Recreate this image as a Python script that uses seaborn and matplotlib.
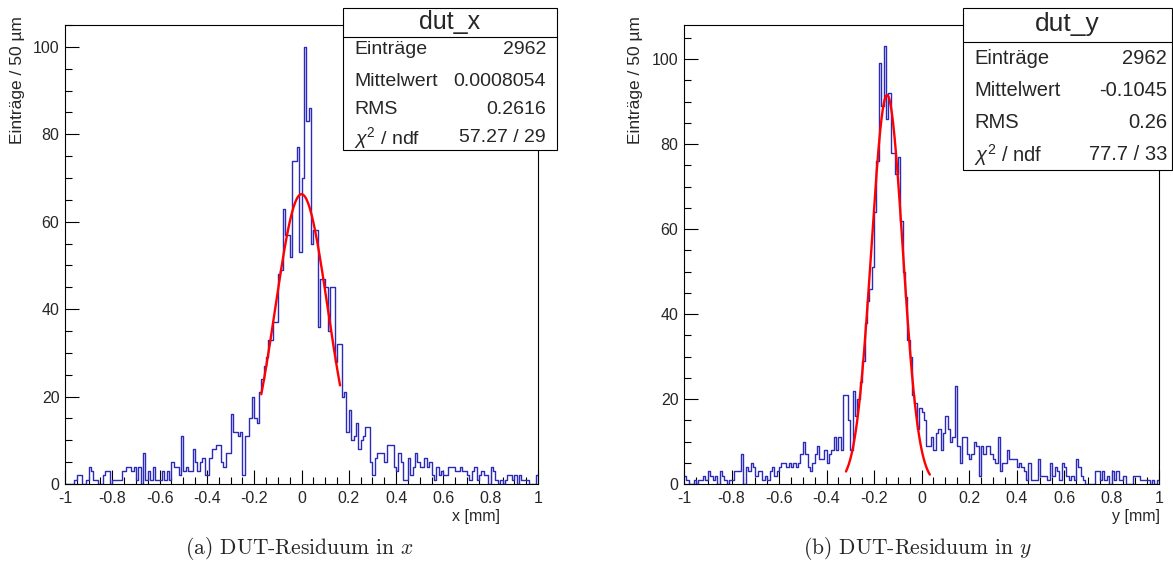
import numpy as np
import pandas as pd
import matplotlib
matplotlib.use("Agg")
import matplotlib.pyplot as plt
from matplotlib.patches import Rectangle
from matplotlib.ticker import MultipleLocator
import seaborn as sns

# 200 bins of 50 um between -1 mm and 1 mm
bin_lo, bin_hi, n_bins = -1.0, 1.0, 200

dut_x_counts = [
    0, 0, 0, 0, 1, 2, 2, 0, 0, 1,
    4, 3, 1, 1, 0, 0, 2, 3, 3, 0,
    1, 1, 1, 1, 3, 3, 4, 4, 3, 4,
    1, 4, 0, 7, 1, 3, 1, 4, 1, 1,
    1, 3, 1, 3, 1, 5, 4, 4, 2, 11,
    3, 4, 3, 3, 8, 5, 3, 5, 6, 2,
    2, 6, 8, 8, 9, 9, 5, 4, 7, 7,
    16, 12, 12, 11, 12, 2, 11, 11, 15, 20,
    15, 14, 21, 24, 27, 29, 33, 33, 37, 37,
    48, 49, 63, 57, 57, 52, 74, 74, 77, 53,
    70, 100, 83, 86, 55, 58, 58, 36, 47, 47,
    45, 35, 45, 45, 28, 32, 32, 20, 21, 12,
    17, 10, 11, 14, 8, 10, 11, 13, 13, 5,
    2, 6, 7, 7, 7, 5, 9, 9, 9, 4,
    3, 7, 5, 1, 1, 6, 2, 4, 7, 5,
    4, 4, 6, 4, 5, 2, 1, 4, 2, 3,
    2, 2, 4, 4, 4, 3, 3, 4, 3, 3,
    2, 1, 3, 4, 1, 2, 3, 2, 2, 0,
    4, 3, 1, 0, 1, 0, 1, 2, 2, 1,
    2, 0, 2, 1, 1, 1, 0, 0, 0, 2,
]

dut_y_counts = [
    2, 1, 0, 0, 1, 0, 1, 1, 2, 1,
    3, 2, 1, 2, 0, 3, 2, 1, 0, 1,
    1, 3, 3, 3, 7, 0, 4, 3, 5, 4,
    2, 3, 3, 1, 2, 1, 3, 4, 2, 3,
    4, 5, 5, 4, 5, 4, 5, 4, 5, 7,
    10, 7, 4, 3, 5, 7, 9, 6, 6, 8,
    5, 7, 8, 11, 8, 11, 8, 21, 21, 15,
    8, 22, 16, 20, 24, 29, 38, 43, 46, 51,
    64, 76, 99, 89, 103, 86, 92, 78, 78, 73,
    77, 62, 50, 44, 34, 30, 21, 19, 13, 18,
    17, 15, 9, 9, 11, 8, 12, 13, 8, 12,
    16, 13, 10, 11, 23, 9, 5, 11, 11, 7,
    6, 7, 10, 9, 2, 9, 7, 9, 9, 7,
    6, 5, 11, 3, 5, 5, 8, 6, 6, 6,
    4, 5, 4, 3, 1, 5, 1, 1, 1, 6,
    2, 2, 2, 1, 5, 2, 4, 3, 1, 5,
    4, 2, 1, 2, 1, 6, 4, 2, 1, 0,
    0, 0, 0, 3, 3, 1, 3, 1, 2, 0,
    3, 1, 3, 1, 1, 2, 0, 0, 0, 2,
    2, 2, 1, 1, 1, 1, 0, 1, 0, 1,
]

# gaussian fit results: amplitude, mean, sigma, fit range
fit_x = dict(amp=66.3, mean=0.0, sigma=0.111, lo=-0.17, hi=0.163)
fit_y = dict(amp=91.5, mean=-0.145, sigma=0.066, lo=-0.318, hi=0.035)

stats_x = [("Einträge", "2962"), ("Mittelwert", "0.0008054"),
           ("RMS", "0.2616"), (r"$\chi^{2}$ / ndf", "57.27 / 29")]
stats_y = [("Einträge", "2962"), ("Mittelwert", "-0.1045"),
           ("RMS", "0.26"), (r"$\chi^{2}$ / ndf", "77.7 / 33")]

x_ticks = [-1, -0.8, -0.6, -0.4, -0.2, 0, 0.2, 0.4, 0.6, 0.8, 1]
x_tick_labels = ["-1", "-0.8", "-0.6", "-0.4", "-0.2", "0", "0.2", "0.4", "0.6", "0.8", "1"]
y_ticks = [0, 20, 40, 60, 80, 100]

sns.set_style("ticks")
plt.rcParams['font.family'] = ['Liberation Sans', 'DejaVu Sans']
plt.rcParams['axes.unicode_minus'] = False
plt.rcParams['mathtext.fontset'] = 'custom'
plt.rcParams['mathtext.rm'] = 'Liberation Sans'
plt.rcParams['mathtext.it'] = 'Liberation Sans:italic'

W, H = 1173, 571
fig = plt.figure(figsize=(W / 100, H / 100), dpi=100)


def px_axes(x0, x1, y_top, y_bot):
    return fig.add_axes([x0 / W, 1 - y_bot / H, (x1 - x0) / W, (y_bot - y_top) / H])


def draw_panel(ax, counts, fit, ymax, label_x):
    width = (bin_hi - bin_lo) / n_bins
    centers = bin_lo + width * (np.arange(n_bins) + 0.5)
    df = pd.DataFrame({"x": centers, "n": counts})
    sns.histplot(data=df, x="x", weights="n", binwidth=width, binrange=(bin_lo, bin_hi),
                 element="step", fill=False, color="#2b2bb8", linewidth=1.0, ax=ax)
    xf = np.linspace(fit["lo"], fit["hi"], 300)
    yf = fit["amp"] * np.exp(-0.5 * ((xf - fit["mean"]) / fit["sigma"]) ** 2)
    sns.lineplot(x=xf, y=yf, color="red", linewidth=1.7, ax=ax)
    ax.set_xlim(bin_lo, bin_hi)
    ax.set_ylim(0, ymax)
    ax.set_xticks(x_ticks)
    ax.set_xticklabels(x_tick_labels)
    ax.set_yticks(y_ticks)
    ax.xaxis.set_minor_locator(MultipleLocator(0.05))
    ax.yaxis.set_minor_locator(MultipleLocator(5))
    ax.tick_params(which="both", direction="in", top=False, right=False,
                   labelsize=11.5, color="black")
    ax.tick_params(which="major", length=10, width=0.8)
    ax.tick_params(which="minor", length=5, width=0.8)
    ax.tick_params(axis="x", pad=5)
    ax.tick_params(axis="y", pad=4)
    for s in ax.spines.values():
        s.set_visible(True)
        s.set_linewidth(0.8)
        s.set_color("black")
    ax.set_xlabel("")
    ax.set_ylabel("Einträge / 50 µm", fontsize=12.5, loc="top")
    ax.yaxis.set_label_coords(label_x, 1.02)


axL = px_axes(65, 538, 25, 484)
draw_panel(axL, dut_x_counts, fit_x, 105, -0.085)
axR = px_axes(684, 1159, 25, 484)
draw_panel(axR, dut_y_counts, fit_y, 108, -0.086)

fig.text(500 / W, 1 - 517 / H, "x [mm]", fontsize=11.5, ha="right", va="center")
fig.text(1160 / W, 1 - 517 / H, "y [mm]", fontsize=11.5, ha="right", va="center")


def stat_box(x0, x1, y0, y1, y_line, title, y_title, rows, row_y, lab_x, val_x, fs, tfs):
    fig.patches.append(Rectangle((x0 / W, 1 - y1 / H), (x1 - x0) / W, (y1 - y0) / H,
                                 transform=fig.transFigure, facecolor="white",
                                 edgecolor="black", linewidth=0.8, zorder=5))
    fig.lines.append(plt.Line2D([x0 / W, x1 / W], [1 - y_line / H] * 2,
                                transform=fig.transFigure, color="black",
                                linewidth=0.8, zorder=6))
    fig.text((x0 + x1) / 2 / W, 1 - y_title / H, title, fontsize=tfs,
             ha="center", va="center", zorder=7)
    for (lab, val), yy in zip(rows, row_y):
        fig.text(lab_x / W, 1 - yy / H, lab, fontsize=fs, ha="left", va="center", zorder=7)
        fig.text(val_x / W, 1 - yy / H, val, fontsize=fs, ha="right", va="center", zorder=7)


stat_box(343, 557, 8, 150, 37, "dut_x", 22, stats_x, [50, 81, 109, 138], 354, 546, 14, 18)
stat_box(963, 1172, 8, 170, 42, "dut_y", 24, stats_y, [58, 91, 122, 155], 974, 1167, 14.5, 19)

fig.text(300 / W, 1 - 548 / H, r"(a) DUT-Residuum in $x$", family="cmr10",
         math_fontfamily="cm", fontsize=15.5, ha="center", va="center")
fig.text(918 / W, 1 - 548 / H, r"(b) DUT-Residuum in $y$", family="cmr10",
         math_fontfamily="cm", fontsize=15.5, ha="center", va="center")

fig.savefig("out.png", dpi=100, facecolor="white")
